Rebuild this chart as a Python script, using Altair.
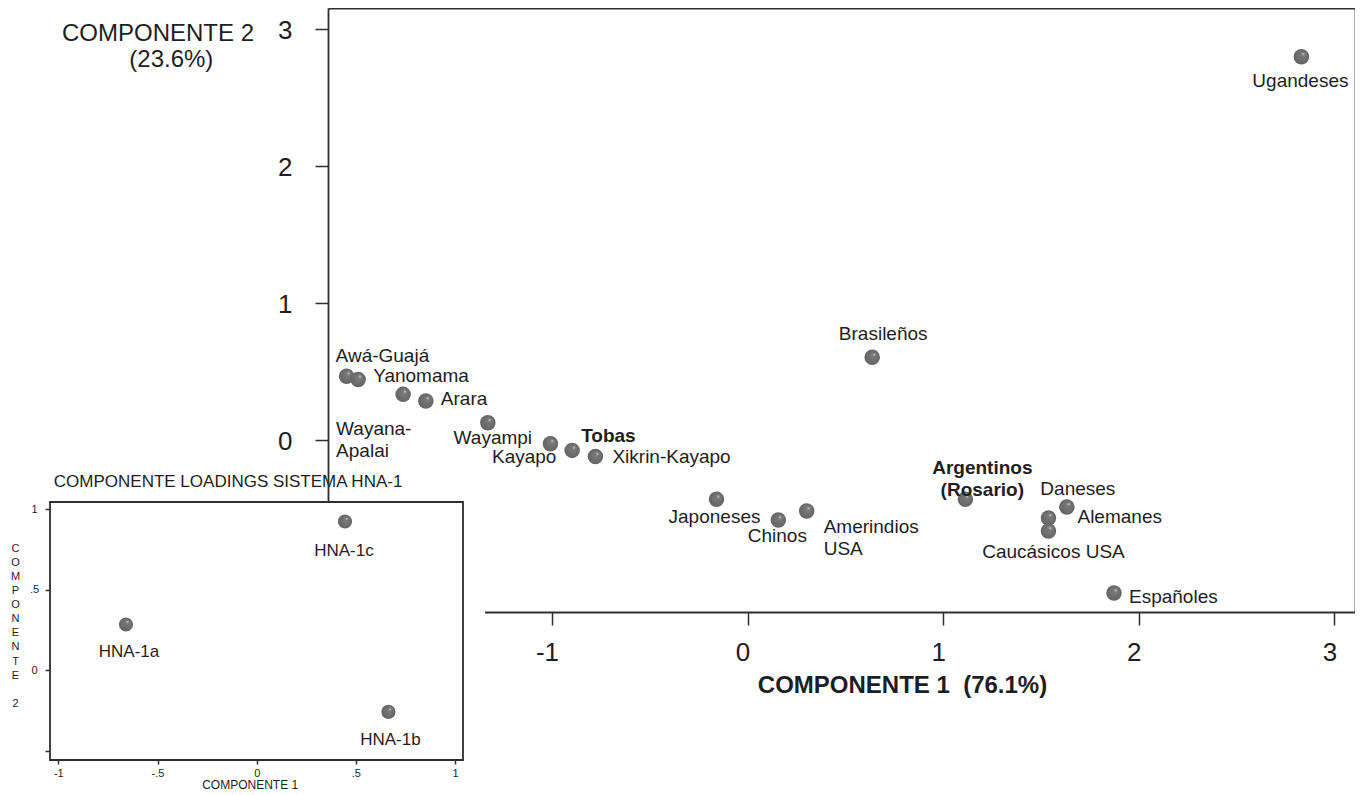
import altair as alt
import pandas as pd

# ---------------- data ----------------
populations = ["Ugandeses", "Brasileños", "Awá-Guajá", "Yanomama", "Wayana-\nApalai",
               "Arara", "Wayampi", "Kayapo", "Tobas", "Xikrin-Kayapo", "Japoneses",
               "Chinos", "Amerindios\nUSA", "Argentinos\n(Rosario)", "Daneses",
               "Alemanes", "Caucásicos USA", "Españoles"]
comp1 = [2.831, 0.637, -2.050, -1.991, -1.761, -1.645, -1.328, -1.008, -0.897, -0.778,
         -0.159, 0.157, 0.302, 1.113, 1.632, 1.538, 1.538, 1.873]
comp2 = [2.797, 0.603, 0.465, 0.441, 0.332, 0.283, 0.125, -0.028, -0.077, -0.122,
         -0.434, -0.585, -0.519, -0.434, -0.490, -0.570, -0.665, -1.119]

loci = ["HNA-1a", "HNA-1b", "HNA-1c"]
load1 = [-0.659, 0.664, 0.445]
load2 = [0.285, -0.258, 0.925]

x_ticks_main = [-1, 0, 1, 2, 3]
y_ticks_main = [0, 1, 2, 3]
x_ticks_inset = [-1, -0.5, 0, 0.5, 1]
y_ticks_inset_labeled = [0, 0.5, 1]
y_ticks_inset_plain = [-0.5]

# ---------------- layout / style ----------------
FONT = "Liberation Sans"
TXT = "#1e1e1e"
LINE = "#2e2e2e"
W, H = 1027, 604
MAIN_X = [-2.145, 3.105]
MAIN_Y = [-1.257, 3.153]
INS_X = [-1.042, 1.040]
INS_Y = [-0.557, 1.046]
INS_XR = [-278, 135]   # inset pixel range inside the layered view
INS_YR = [752, 494]
INS_BG_X2 = 1.151      # white backing reaches a little right of the inset frame
ZW = "\u200b"
NB = "\u00a0"

# label placement: align, dx, dy, bold
main_place = {
    "Ugandeses": ("center", -1, 24, False),
    "Brasileños": ("center", 11, -23, False),
    "Awá-Guajá": ("left", -11, -20, False),
    "Yanomama": ("left", 15, -3, False),
    "Wayana-\nApalai": ("left", -67, 35, False),
    "Arara": ("left", 15, -2, False),
    "Wayampi": ("center", 5, 15, False),
    "Kayapo": ("right", 6, 13, False),
    "Tobas": ("left", 9, -14, True),
    "Xikrin-Kayapo": ("left", 17, 0, False),
    "Japoneses": ("center", -2, 18, False),
    "Chinos": ("center", -1, 16, False),
    "Amerindios\nUSA": ("left", 17, 16, False),
    "Argentinos\n(Rosario)": ("center", 17, -31, True),
    "Daneses": ("center", 11, -18, False),
    "Alemanes": ("left", 29, -1, False),
    "Caucásicos USA": ("center", 5, 21, False),
    "Españoles": ("left", 15, 4, False),
}
inset_place = {"HNA-1a": (3, 28), "HNA-1b": (2, 28), "HNA-1c": (-1, 30)}

ball = alt.RadialGradient(
    gradient="radial", x1=0.64, y1=0.3, r1=0.0, x2=0.5, y2=0.5, r2=0.5,
    stops=[alt.GradientStop(color="#e0e0e0", offset=0.0),
           alt.GradientStop(color="#7a7a7a", offset=0.2),
           alt.GradientStop(color="#646464", offset=1.0)])

main_df = pd.DataFrame({"pob": populations, "c1": comp1, "c2": comp2})
ins_df = pd.DataFrame({"locus": loci, "l1": load1, "l2": load2})
frame_df = pd.DataFrame({"x1": [INS_X[0]], "x2": [INS_X[1]], "xb": [INS_BG_X2],
                         "y1": [INS_Y[0]], "y2": [INS_Y[1]]})

xs_main = alt.Scale(domain=MAIN_X, nice=False, zero=False)
ys_main = alt.Scale(domain=MAIN_Y, nice=False, zero=False)
xs_ins = alt.Scale(domain=INS_X, range=INS_XR, nice=False, zero=False)
ys_ins = alt.Scale(domain=INS_Y, range=INS_YR, nice=False, zero=False)

common_axis = dict(grid=False, domainColor=LINE, domainWidth=1.8, tickColor=LINE,
                   tickWidth=1.5, labelColor=TXT, titleColor=TXT, labelFont=FONT,
                   titleFont=FONT)

# ---------------- main chart ----------------
main_points = alt.Chart(main_df).mark_circle(size=240, opacity=1, color=ball).encode(
    x=alt.X("c1:Q", scale=xs_main, axis=alt.Axis(
        orient="bottom", values=x_ticks_main, labelExpr="toString(datum.value)",
        tickSize=13, labelFontSize=26, labelPadding=14, labelOffset=-5,
        title="COMPONENTE 1" + NB + " (76.1%)", titleFontSize=24, titleFontWeight="bold",
        titleAlign="center", titleBaseline="alphabetic", titleX=574, titleY=80,
        **common_axis)),
    y=alt.Y("c2:Q", scale=ys_main, axis=alt.Axis(
        orient="left", values=y_ticks_main, labelExpr="toString(datum.value)",
        tickSize=13, labelFontSize=26, labelPadding=23, labelOffset=2,
        title=["COMPONENTE 2", ZW + NB * 4 + "(23.6%)"], titleFontSize=24,
        titleFontWeight="normal", titleAngle=0, titleAlign="center",
        titleBaseline="alphabetic", titleLineHeight=26.7, titleX=-170.5, titleY=32,
        **common_axis)),
)

main_frame = alt.Chart(main_df).mark_circle(size=0, opacity=0).encode(
    x=alt.X("c1:Q", scale=xs_main, axis=alt.Axis(
        orient="top", ticks=False, labels=False, title=None, **common_axis)),
    y=alt.Y("c2:Q", scale=ys_main, axis=alt.Axis(
        orient="right", ticks=False, labels=False, title=None, **common_axis)),
)

main_labels = []
for name, (al, dx, dy, bold) in main_place.items():
    main_labels.append(
        alt.Chart(main_df).transform_filter(alt.FieldEqualPredicate(field="pob", equal=name))
        .mark_text(align=al, dx=dx, dy=dy, baseline="middle", fontSize=19, font=FONT,
                   fontWeight="bold" if bold else "normal", lineBreak="\n",
                   lineHeight=22, color=TXT)
        .encode(x=alt.X("c1:Q", scale=xs_main, axis=None),
                y=alt.Y("c2:Q", scale=ys_main, axis=None),
                text="pob:N"))

main = alt.layer(main_points, main_frame, *main_labels).resolve_axis(
    x="independent", y="independent")

# ---------------- inset (loadings) ----------------
inset_bg = alt.Chart(frame_df).mark_rect(color="white", opacity=1).encode(
    x=alt.X("x1:Q", scale=xs_ins, axis=alt.Axis(
        orient="top", offset=-494, domain=False, ticks=False, labels=False,
        title="COMPONENTE LOADINGS SISTEMA HNA-1", titleFontSize=17,
        titleFontWeight="normal", titleAlign="left", titleBaseline="alphabetic",
        titleX=-274.7, titleY=-16, **common_axis)),
    x2="xb:Q",
    y=alt.Y("y1:Q", scale=ys_ins, axis=None),
    y2="y2:Q",
)

inset_frame = alt.Chart(frame_df).mark_rect(filled=False, stroke=LINE, strokeWidth=1.8).encode(
    x=alt.X("x1:Q", scale=xs_ins, axis=None),
    x2="x2:Q",
    y=alt.Y("y1:Q", scale=ys_ins, axis=alt.Axis(
        orient="left", offset=278, values=y_ticks_inset_plain, domain=False,
        labels=False, tickSize=5, title="2", titleFontSize=11,
        titleFontWeight="normal", titleAngle=0, titleAlign="center",
        titleBaseline="alphabetic", titleX=-35, titleY=698.5, **common_axis)),
    y2="y2:Q",
)

inset_points = alt.Chart(ins_df).mark_circle(size=200, opacity=1, color=ball).encode(
    x=alt.X("l1:Q", scale=xs_ins, axis=alt.Axis(
        orient="bottom", offset=147, values=x_ticks_inset, domain=False,
        labelExpr="replace(toString(datum.value), '0.', '.')",
        tickSize=5, labelFontSize=11, labelPadding=3,
        title="COMPONENTE 1", titleFontSize=12, titleFontWeight="normal",
        titleAlign="center", titleBaseline="alphabetic", titleX=-78.3, titleY=29,
        **common_axis)),
    y=alt.Y("l2:Q", scale=ys_ins, axis=alt.Axis(
        orient="left", offset=278, values=y_ticks_inset_labeled, domain=False,
        labelExpr="replace(toString(datum.value), '0.', '.')",
        tickSize=5, labelFontSize=11, labelPadding=11, labelAlign="center",
        title=list("COMPONENTE"), titleFontSize=11,
        titleFontWeight="normal", titleAngle=0, titleAlign="center",
        titleBaseline="alphabetic", titleLineHeight=14.1, titleX=-35, titleY=543.3,
        **common_axis)),
)

inset_labels = []
for name, (dx, dy) in inset_place.items():
    inset_labels.append(
        alt.Chart(ins_df).transform_filter(alt.FieldEqualPredicate(field="locus", equal=name))
        .mark_text(align="center", dx=dx, dy=dy, baseline="middle", fontSize=17,
                   font=FONT, color=TXT)
        .encode(x=alt.X("l1:Q", scale=xs_ins, axis=None),
                y=alt.Y("l2:Q", scale=ys_ins, axis=None),
                text="locus:N"))

inset = alt.layer(inset_bg, inset_frame, inset_points, *inset_labels).resolve_axis(
    x="independent", y="independent")

chart = alt.layer(main, inset).resolve_scale(
    x="independent", y="independent"
).properties(
    width=W, height=H,
    padding={"left": 2, "top": 0, "right": 0, "bottom": 0},
).configure_view(stroke=None).configure(font=FONT)

chart.save("out.html", embed_options={"renderer": "svg", "actions": False})
